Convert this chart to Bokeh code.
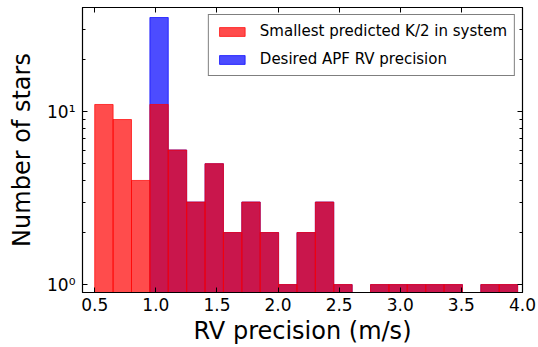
import numpy as np
from bokeh.plotting import figure
from bokeh.models import (ColumnDataSource, LinearAxis, LogAxis, FixedTicker,
                          Range1d, Legend, LegendItem, CustomJSTickFormatter)
from bokeh.embed import file_html
from bokeh.resources import INLINE

# ---- data ----
bin_start = 0.50
bin_stop = 3.96
n_bins = 23
k2_counts = [11, 9, 4, 11, 6, 3, 5, 2, 3, 2, 1, 2, 3, 1, 0, 1, 1, 1, 1, 1, 0, 1, 1]
apf_counts = [0, 0, 0, 35, 6, 3, 5, 2, 3, 2, 1, 2, 3, 1, 0, 1, 1, 1, 1, 1, 0, 1, 1]
x_ticks = [0.5, 1.0, 1.5, 2.0, 2.5, 3.0, 3.5, 4.0]
y_major = [1, 10]
y_minor = [2, 3, 4, 5, 6, 7, 8, 9, 20, 30, 40]
labels = ["Smallest predicted K/2 in system", "Desired APF RV precision"]

edges = np.linspace(bin_start, bin_stop, n_bins + 1)


def hist_source(counts):
    c = np.array(counts, dtype=float)
    m = c > 0
    return ColumnDataSource(dict(left=edges[:-1][m], right=edges[1:][m],
                                 top=c[m], bottom=np.full(m.sum(), 0.5)))


FONT = "DejaVu Sans"

p = figure(width=538, height=347, y_axis_type="log",
           x_range=Range1d(0.4, 4.0), y_range=Range1d(0.9, 40),
           output_backend="svg", toolbar_location=None,
           min_border_left=82, min_border_right=16, min_border_top=7,
           min_border_bottom=54)
p.xgrid.visible = False
p.ygrid.visible = False
p.outline_line_color = "black"
p.outline_line_width = 1.2
p.background_fill_color = "white"
p.border_fill_color = "white"

blue = p.quad(left="left", right="right", top="top", bottom="bottom",
              source=hist_source(apf_counts), fill_color="blue", fill_alpha=0.7,
              line_color="blue", line_alpha=0.7, line_width=1)
red = p.quad(left="left", right="right", top="top", bottom="bottom",
             source=hist_source(k2_counts), fill_color="red", fill_alpha=0.7,
             line_color="red", line_alpha=0.7, line_width=1)

empty_fmt = CustomJSTickFormatter(code='return "";')

# bottom axis
xa = p.xaxis[0]
xa.ticker = FixedTicker(ticks=x_ticks)
xa.formatter = CustomJSTickFormatter(code="return tick.toFixed(1);")
xa.axis_label = "RV precision (m/s)"
xa.axis_label_text_font = FONT
xa.axis_label_text_font_size = "24px"
xa.axis_label_text_font_style = "normal"
xa.axis_label_text_color = "black"
xa.axis_label_standoff = 3
xa.major_label_text_font = FONT
xa.major_label_text_font_size = "17px"
xa.major_label_text_color = "black"
xa.major_label_standoff = 5
xa.major_tick_in = 5
xa.major_tick_out = 0
xa.minor_tick_in = 0
xa.minor_tick_out = 0
xa.axis_line_color = "black"
xa.major_tick_line_color = "black"

# left axis
ya = p.yaxis[0]
ya.ticker = FixedTicker(ticks=y_major, minor_ticks=y_minor)
ya.formatter = CustomJSTickFormatter(code="""
if (Math.abs(tick - 1) < 1e-6) return "10\u2070";
if (Math.abs(tick - 10) < 1e-6) return "10\u00b9";
return "";
""")
ya.axis_label = "Number of stars"
ya.axis_label_text_font = FONT
ya.axis_label_text_font_size = "24px"
ya.axis_label_text_font_style = "normal"
ya.axis_label_text_color = "black"
ya.axis_label_standoff = 8
ya.major_label_text_font = FONT
ya.major_label_text_font_size = "17px"
ya.major_label_text_color = "black"
ya.major_label_standoff = 7
ya.major_tick_in = 5
ya.major_tick_out = 0
ya.minor_tick_in = 3
ya.minor_tick_out = 0
ya.axis_line_color = "black"
ya.major_tick_line_color = "black"
ya.minor_tick_line_color = "black"

# top axis (ticks only)
top = LinearAxis(ticker=FixedTicker(ticks=x_ticks), formatter=empty_fmt,
                 major_label_standoff=0, major_tick_in=5, major_tick_out=0,
                 minor_tick_in=0, minor_tick_out=0,
                 axis_line_color="black", major_tick_line_color="black")
p.add_layout(top, "above")

# right axis (ticks only)
right = LogAxis(ticker=FixedTicker(ticks=y_major, minor_ticks=y_minor),
                formatter=CustomJSTickFormatter(code='return "";'),
                major_label_standoff=0, major_tick_in=5, major_tick_out=0,
                minor_tick_in=3, minor_tick_out=0,
                axis_line_color="black", major_tick_line_color="black",
                minor_tick_line_color="black")
p.add_layout(right, "right")

legend = Legend(items=[LegendItem(label=labels[0], renderers=[red]),
                       LegendItem(label=labels[1], renderers=[blue])],
                location="top_right", margin=7, padding=7, spacing=10,
                glyph_width=32, glyph_height=11, label_height=12,
                label_standoff=12, label_text_font=FONT,
                label_text_font_size="15px", label_text_color="black",
                border_line_color="black", border_line_width=1,
                background_fill_color="white", background_fill_alpha=1)
p.add_layout(legend)

open("out.html", "w").write(file_html(p, INLINE))
